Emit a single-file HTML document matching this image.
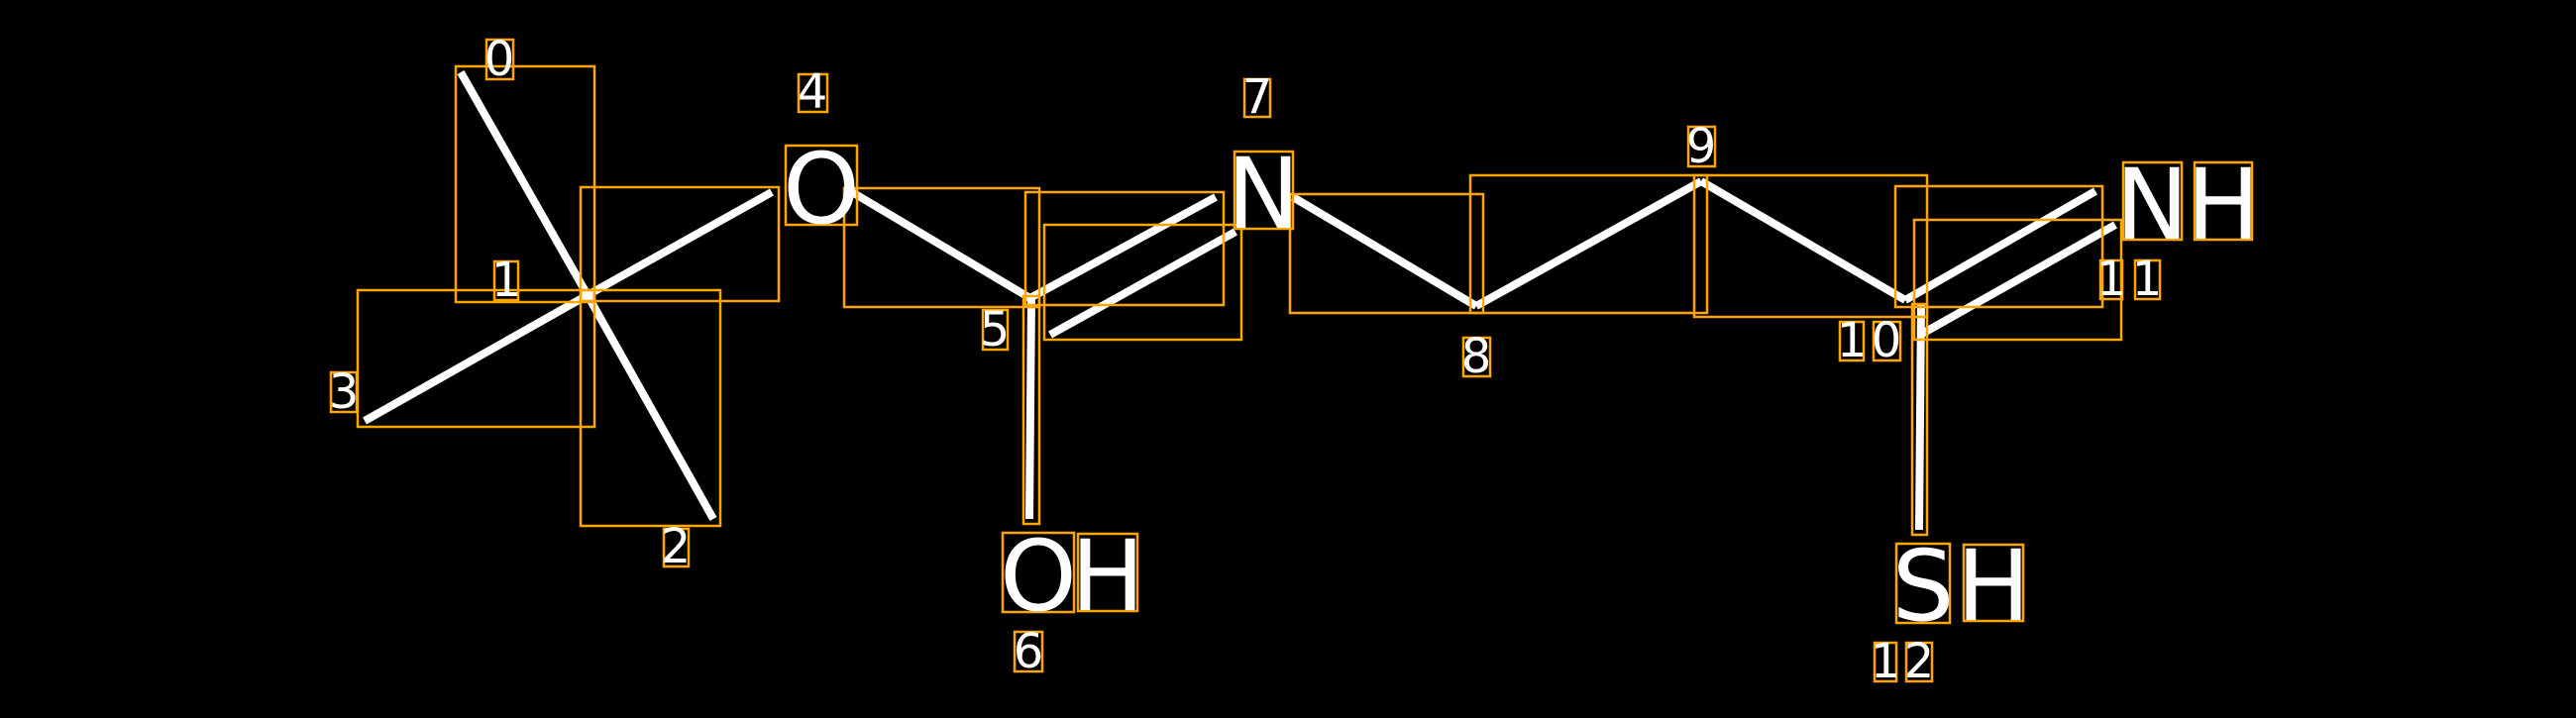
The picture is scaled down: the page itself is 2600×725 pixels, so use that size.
<!DOCTYPE html>
<html><head><meta charset="utf-8"><style>
html,body{margin:0;padding:0;background:#000;}
svg{display:block}
text{font-family:"DejaVu Sans","Liberation Sans",sans-serif;fill:#fff;}
</style></head><body>
<svg width="2600" height="725" viewBox="0 0 2600 725" xmlns="http://www.w3.org/2000/svg">
<rect width="2600" height="725" fill="#000"/>
<g stroke="#fff" stroke-width="8" stroke-linecap="butt" fill="none">
<line x1="465" y1="73" x2="593" y2="298"/>
<line x1="593" y1="298" x2="779" y2="194"/>
<line x1="593" y1="298" x2="368" y2="425"/>
<line x1="593" y1="298" x2="720" y2="524"/>
<line x1="860" y1="194" x2="1038" y2="300"/>
<line x1="1041" y1="300" x2="1039" y2="524"/>
<line x1="1036" y1="303" x2="1227" y2="199"/>
<line x1="1060" y1="338" x2="1247" y2="234"/>
<line x1="1305" y1="199" x2="1490" y2="309"/>
<line x1="1490" y1="309" x2="1717" y2="183"/>
<line x1="1717" y1="183" x2="1923" y2="303"/>
<line x1="1923" y1="303" x2="2115" y2="193"/>
<line x1="1940" y1="337" x2="2135" y2="227"/>
<line x1="1939" y1="307" x2="1937" y2="535"/>
</g>
<g stroke="#FFA500" stroke-width="2.5" fill="none">
<rect x="460" y="67" width="140" height="238"/>
<rect x="586" y="189" width="200" height="115"/>
<rect x="361" y="293" width="239" height="138"/>
<rect x="586" y="293" width="141" height="238"/>
<rect x="852" y="190" width="197" height="120"/>
<rect x="1033" y="299" width="16" height="230"/>
<rect x="1035" y="194" width="200" height="114"/>
<rect x="1054" y="227" width="199" height="116"/>
<rect x="1302" y="196" width="195" height="120"/>
<rect x="1484" y="177" width="239" height="139"/>
<rect x="1710" y="177" width="235" height="143"/>
<rect x="1913" y="188" width="209" height="122"/>
<rect x="1932" y="222" width="209" height="121"/>
<rect x="1930" y="307" width="15" height="233"/>
<rect x="793" y="147" width="72" height="80"/>
<rect x="1012" y="538" width="72" height="80"/>
<rect x="1088" y="539" width="60" height="78"/>
<rect x="1246" y="153" width="59" height="78"/>
<rect x="2143" y="164" width="59" height="78"/>
<rect x="2215" y="164" width="58" height="78"/>
<rect x="1914" y="549" width="54" height="80"/>
<rect x="1982" y="550" width="60" height="77"/>
<rect x="491" y="40" width="27" height="40"/>
<rect x="499" y="264" width="24" height="39"/>
<rect x="670" y="534" width="25" height="38"/>
<rect x="334" y="376" width="26" height="40"/>
<rect x="806" y="75" width="29" height="38"/>
<rect x="992" y="313" width="25" height="40"/>
<rect x="1024" y="638" width="28" height="40"/>
<rect x="1256" y="80" width="26" height="38"/>
<rect x="1477" y="341" width="27" height="39"/>
<rect x="1704" y="128" width="27" height="40"/>
<rect x="1857" y="325" width="24" height="39"/>
<rect x="1891" y="325" width="27" height="39"/>
<rect x="2120" y="263" width="22" height="39"/>
<rect x="2155" y="263" width="25" height="39"/>
<rect x="1892" y="649" width="22" height="39"/>
<rect x="1924" y="649" width="26" height="39"/>
</g>
<g font-size="99">
<text x="829" y="225" text-anchor="middle">O</text>
<text x="1048" y="616" text-anchor="middle">O</text>
<text x="1118" y="616" text-anchor="middle">H</text>
<text x="1275" y="230" text-anchor="middle">N</text>
<text x="2172" y="241" text-anchor="middle">N</text>
<text x="2244" y="241" text-anchor="middle">H</text>
<text x="1941" y="626" text-anchor="middle">S</text>
<text x="2012" y="626" text-anchor="middle">H</text>
</g>
<g font-size="48" text-anchor="middle">
<text x="504" y="76">0</text>
<text x="511" y="299">1</text>
<text x="682" y="568">2</text>
<text x="347" y="412">3</text>
<text x="820" y="109">4</text>
<text x="1004" y="349">5</text>
<text x="1038" y="674">6</text>
<text x="1269" y="114">7</text>
<text x="1490" y="376">8</text>
<text x="1717" y="164">9</text>
<text x="1869" y="360">1</text>
<text x="1904" y="360">0</text>
<text x="2131" y="298">1</text>
<text x="2167" y="298">1</text>
<text x="1903" y="684">1</text>
<text x="1937" y="684">2</text>
</g>
</svg>
</body></html>
